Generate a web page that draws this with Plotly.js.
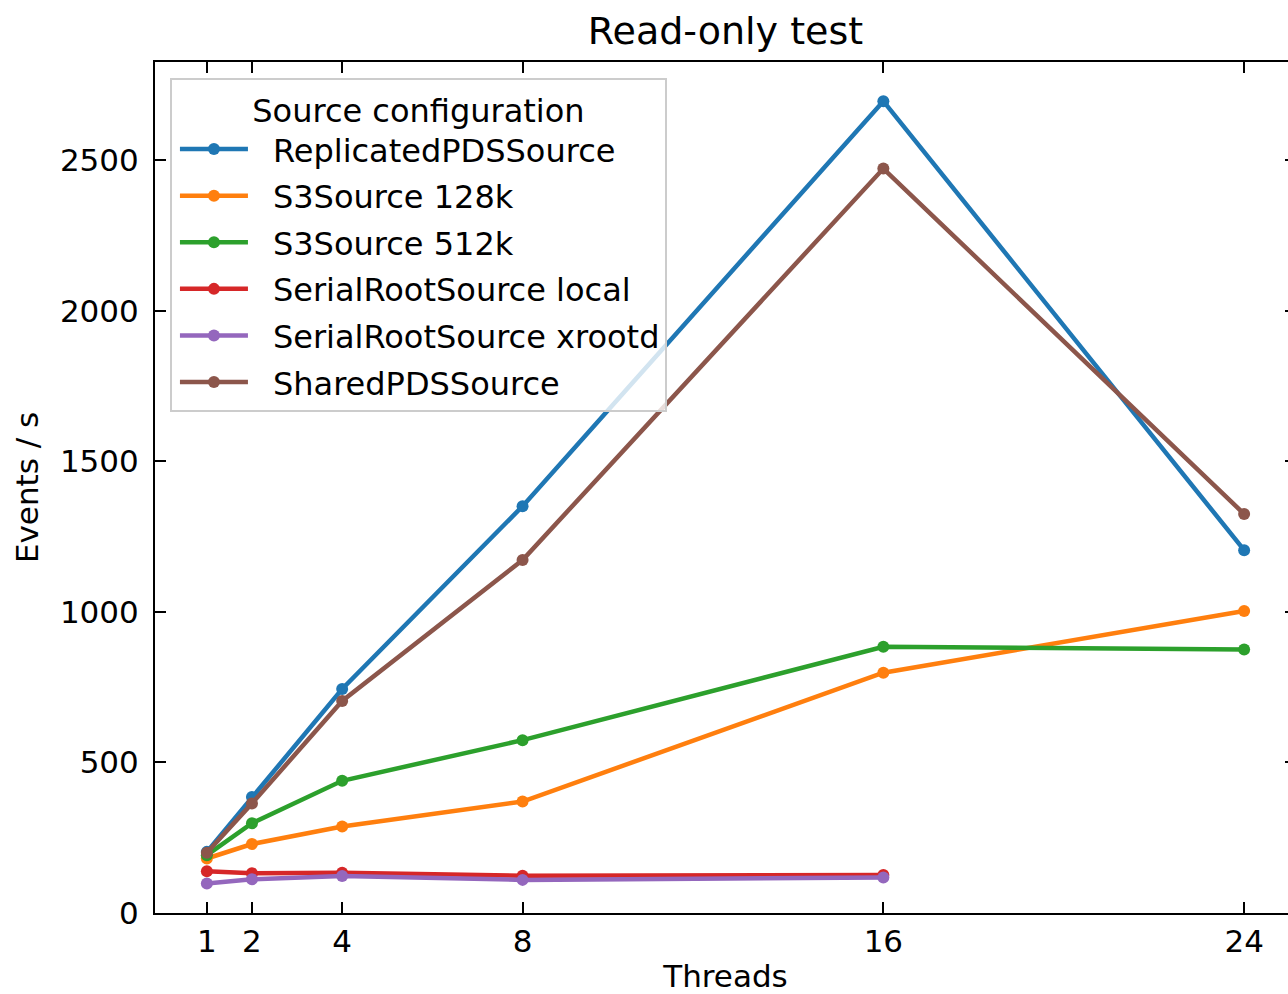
<!DOCTYPE html>
<html>
<head>
<meta charset="utf-8">
<script src="https://cdn.plot.ly/plotly-3.0.1.min.js"></script>
<style>
html, body { margin: 0; padding: 0; overflow: hidden; background: #fff; }
#chart { width: 1300px; height: 994px; }
</style>
</head>
<body>
<div id="chart"></div>
<script>
const threads = [1, 2, 4, 8, 16, 24];
const threadsSerial = [1, 2, 4, 8, 16];
const replicatedPDS = [203, 385, 744, 1351, 2696, 1205];
const s3Source128k = [181, 229, 287, 370, 798, 1003];
const s3Source512k = [192, 298, 439, 574, 884, 875];
const serialRootLocal = [139, 132, 134, 124, 126];
const serialRootXrootd = [98, 112, 123, 110, 118];
const sharedPDS = [200, 364, 704, 1172, 2472, 1325];
const xTickVals = [1, 2, 4, 8, 16, 24];
const yTickVals = [0, 500, 1000, 1500, 2000, 2500];

const seriesDefs = [
  { name: 'ReplicatedPDSSource', x: threads, y: replicatedPDS, color: '#1f77b4' },
  { name: 'S3Source 128k', x: threads, y: s3Source128k, color: '#ff7f0e' },
  { name: 'S3Source 512k', x: threads, y: s3Source512k, color: '#2ca02c' },
  { name: 'SerialRootSource local', x: threadsSerial, y: serialRootLocal, color: '#d62728' },
  { name: 'SerialRootSource xrootd', x: threadsSerial, y: serialRootXrootd, color: '#9467bd' },
  { name: 'SharedPDSSource', x: threads, y: sharedPDS, color: '#8c564b' }
];

const traces = seriesDefs.map((s, i) => ({
  type: 'scatter',
  mode: 'lines+markers',
  name: s.name,
  x: s.x,
  y: s.y,
  legendgroup: 'g' + i,
  line: { color: s.color, width: 4.5 },
  marker: { color: s.color, size: 12 }
}));

const font = { family: 'DejaVu Sans, sans-serif', size: 31, color: '#000' };
const legendFont = { family: 'DejaVu Sans, sans-serif', size: 32, color: '#000' };

const layout = {
  width: 1300,
  height: 994,
  margin: { l: 155, r: 4, t: 62, b: 81 },
  paper_bgcolor: '#fff',
  plot_bgcolor: '#fff',
  font: font,
  showlegend: true,
  title: {
    text: 'Read-only test',
    font: { family: 'DejaVu Sans, sans-serif', size: 38, color: '#000' },
    xref: 'paper', x: 0.5, xanchor: 'center',
    yref: 'container', y: 1 - 31 / 994, yanchor: 'middle'
  },
  xaxis: {
    range: [-0.15, 25.15],
    tickvals: xTickVals,
    ticktext: xTickVals.map(String),
    ticks: 'inside', ticklen: 11, tickwidth: 2, tickcolor: '#000',
    showline: true, linecolor: '#000', linewidth: 2, mirror: 'ticks',
    showgrid: false, zeroline: false,
    tickfont: font,
    title: { text: 'Threads', font: font, standoff: 15 }
  },
  yaxis: {
    range: [0, 2826],
    tickvals: yTickVals,
    ticktext: yTickVals.map(String),
    ticks: 'inside', ticklen: 11, tickwidth: 2, tickcolor: '#000',
    showline: true, linecolor: '#000', linewidth: 2, mirror: 'ticks',
    showgrid: false, zeroline: false,
    tickfont: font,
    ticklabelstandoff: 8,
    title: { text: 'Events / s', font: font, standoff: 12 }
  },
  legend: {
    x: 0.0131, y: 0.981, xanchor: 'left', yanchor: 'top',
    xref: 'paper', yref: 'paper',
    bgcolor: 'rgba(255,255,255,0.8)',
    bordercolor: '#cccccc', borderwidth: 2,
    font: legendFont,
    traceorder: 'grouped',
    tracegroupgap: 2,
    itemwidth: 91,
    title: { text: 'Source configuration', side: 'top center', font: legendFont }
  }
};

Plotly.newPlot('chart', traces, layout, { displayModeBar: false, staticPlot: true }).then(() => {
  // widen legend line samples to look like matplotlib's handles
  document.querySelectorAll('.legend .legendlines path').forEach(p => {
    p.setAttribute('d', 'M8,0h68');
  });
  document.querySelectorAll('.legend .legendpoints path').forEach(p => {
    const t = p.getAttribute('transform') || '';
    p.setAttribute('transform', t.replace(/translate\(([^,]+),/, 'translate(42,'));
  });
});
</script>
</body>
</html>
